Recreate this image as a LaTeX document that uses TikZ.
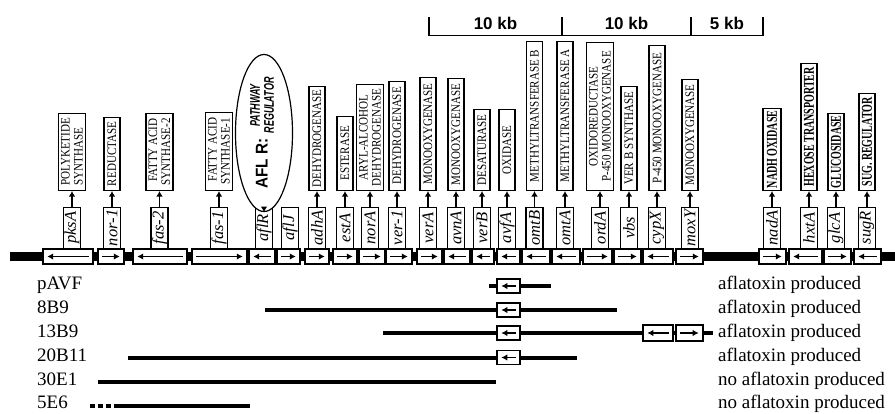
\documentclass[tikz,border=0pt]{standalone}
\usepackage{fontspec}
\setmainfont{Liberation Serif}
\setsansfont{Liberation Sans}
\newfontfamily\narrowserif{Liberation Serif}[FakeStretch=0.85]
\usetikzlibrary{arrows.meta,shapes.geometric}

\tikzset{
  gene/.style={draw, fill=white, line width=1.6pt, minimum height=15pt, inner sep=0pt},
  cgene/.style={gene, line width=1.4pt, minimum height=14pt},
  garrow/.style={line width=1.8pt, -{Latex[length=6pt,width=6.5pt]}},
  tag/.style={draw, fill=white, line width=1.2pt, rotate=90, anchor=west,
    minimum width=41pt, minimum height=17pt, inner sep=1pt,
    font=\fontsize{16.5}{16.5}\selectfont\itshape},
  func/.style={draw, fill=white, line width=1.2pt, rotate=90, anchor=west,
    minimum height=16pt, inner xsep=1.5pt, inner ysep=1.5pt,
    font=\narrowserif\fontsize{13}{13}\selectfont},
  func2/.style={func, minimum height=27pt},
  funcb/.style={func, font=\fontsize{10}{11}\selectfont\bfseries},
  farrow/.style={line width=1.3pt, -{Latex[length=5.5pt,width=6.5pt]}},
  clone/.style={anchor=base west, inner sep=0pt, font=\fontsize{19}{20}\selectfont},
  cline/.style={line width=4pt},
  kb/.style={anchor=base, inner sep=0pt, font=\sffamily\bfseries\fontsize{17}{17}\selectfont}
}

\begin{document}
\begin{tikzpicture}[x=1pt,y=-1pt]
 \useasboundingbox (0,0) rectangle (895,413);

 % scale
 \draw[line width=1.5pt] (429,17) -- (429,35.5) -- (763,35.5) -- (763,17);
 \draw[line width=1.5pt] (562,17) -- (562,35.5) (691,17) -- (691,35.5);
 \node[kb] (K1) at (495.5,29) {10 kb};
 \node[kb] (K2) at (626.5,29) {10 kb};
 \node[kb] (K3) at (727,29) {5 kb};

 % chromosome
 \coordinate (chrL) at (10,256.5);
 \coordinate (chrR) at (895,256.5);
 \draw[line width=9pt] (chrL) -- (chrR);

 \node[gene, minimum width=50pt] (G1) at (68,256.5) {};
 \node[gene, minimum width=26pt] (G2) at (111,256.5) {};
 \node[gene, minimum width=54pt] (G3) at (160,256.5) {};
 \node[gene, minimum width=55pt] (G4) at (219.5,256.5) {};
 \node[gene, minimum width=26pt] (G5) at (262,256.5) {};
 \node[gene, minimum width=23pt] (G6) at (288.5,256.5) {};
 \node[gene, minimum width=24pt] (G7) at (317,256.5) {};
 \node[gene, minimum width=24pt] (G8) at (345,256.5) {};
 \node[gene, minimum width=26pt] (G9) at (372,256.5) {};
 \node[gene, minimum width=26pt] (G10) at (399,256.5) {};
 \node[gene, minimum width=25pt] (G11) at (429.5,256.5) {};
 \node[gene, minimum width=26pt] (G12) at (457,256.5) {};
 \node[gene, minimum width=22pt] (G13) at (483,256.5) {};
 \node[gene, minimum width=23pt] (G14) at (508.5,256.5) {};
 \node[gene, minimum width=28pt] (G15) at (536,256.5) {};
 \node[gene, minimum width=28pt] (G16) at (566,256.5) {};
 \node[gene, minimum width=29pt] (G17) at (597.5,256.5) {};
 \node[gene, minimum width=27pt] (G18) at (627.5,256.5) {};
 \node[gene, minimum width=30pt] (G19) at (658,256.5) {};
 \node[gene, minimum width=27pt] (G20) at (689.5,256.5) {};
 \node[gene, minimum width=27pt] (G21) at (772.5,256.5) {};
 \node[gene, minimum width=33pt] (G22) at (805.5,256.5) {};
 \node[gene, minimum width=27pt] (G23) at (837.5,256.5) {};
 \node[gene, minimum width=27pt] (G24) at (867.5,256.5) {};

 % reading direction
 \draw[garrow] ([xshift=-5pt]G1.east) -- ([xshift=5pt]G1.west);
 \draw[garrow] ([xshift=5pt]G2.west) -- ([xshift=-5pt]G2.east);
 \draw[garrow] ([xshift=-5pt]G3.east) -- ([xshift=5pt]G3.west);
 \draw[garrow] ([xshift=5pt]G4.west) -- ([xshift=-5pt]G4.east);
 \draw[garrow] ([xshift=-5pt]G5.east) -- ([xshift=5pt]G5.west);
 \draw[garrow] ([xshift=5pt]G6.west) -- ([xshift=-5pt]G6.east);
 \draw[garrow] ([xshift=5pt]G7.west) -- ([xshift=-5pt]G7.east);
 \draw[garrow] ([xshift=5pt]G8.west) -- ([xshift=-5pt]G8.east);
 \draw[garrow] ([xshift=5pt]G9.west) -- ([xshift=-5pt]G9.east);
 \draw[garrow] ([xshift=5pt]G10.west) -- ([xshift=-5pt]G10.east);
 \draw[garrow] ([xshift=5pt]G11.west) -- ([xshift=-5pt]G11.east);
 \draw[garrow] ([xshift=-5pt]G12.east) -- ([xshift=5pt]G12.west);
 \draw[garrow] ([xshift=-5pt]G13.east) -- ([xshift=5pt]G13.west);
 \draw[garrow] ([xshift=-5pt]G14.east) -- ([xshift=5pt]G14.west);
 \draw[garrow] ([xshift=-5pt]G15.east) -- ([xshift=5pt]G15.west);
 \draw[garrow] ([xshift=-5pt]G16.east) -- ([xshift=5pt]G16.west);
 \draw[garrow] ([xshift=5pt]G17.west) -- ([xshift=-5pt]G17.east);
 \draw[garrow] ([xshift=5pt]G18.west) -- ([xshift=-5pt]G18.east);
 \draw[garrow] ([xshift=-5pt]G19.east) -- ([xshift=5pt]G19.west);
 \draw[garrow] ([xshift=5pt]G20.west) -- ([xshift=-5pt]G20.east);
 \draw[garrow] ([xshift=5pt]G21.west) -- ([xshift=-5pt]G21.east);
 \draw[garrow] ([xshift=-5pt]G22.east) -- ([xshift=5pt]G22.west);
 \draw[garrow] ([xshift=5pt]G23.west) -- ([xshift=-5pt]G23.east);
 \draw[garrow] ([xshift=-5pt]G24.east) -- ([xshift=5pt]G24.west);

 % gene names
 \node[tag] (T1) at (72,249) {pksA};
 \node[tag] (T2) at (112,249) {nor-1};
 \node[tag] (T3) at (159.5,249) {fas-2};
 \node[tag] (T4) at (219,249) {fas-1};
 \node[tag] (T5) at (264,249) {aflR};
 \node[tag] (T6) at (290,249) {aflJ};
 \node[tag] (T7) at (317,249) {adhA};
 \node[tag] (T8) at (345,249) {estA};
 \node[tag] (T9) at (370,249) {norA};
 \node[tag] (T10) at (397,249) {ver-1};
 \node[tag] (T11) at (428,249) {verA};
 \node[tag] (T12) at (456,249) {avnA};
 \node[tag] (T13) at (482,249) {verB};
 \node[tag] (T14) at (507,249) {avfA};
 \node[tag] (T15) at (534.5,249) {omtB};
 \node[tag] (T16) at (565,249) {omtA};
 \node[tag] (T17) at (600,249) {ordA};
 \node[tag] (T18) at (629,249) {vbs};
 \node[tag] (T19) at (657,249) {cypX};
 \node[tag] (T20) at (690,249) {moxY};
 \node[tag] (T21) at (772,249) {nadA};
 \node[tag] (T22) at (809,249) {hxtA};
 \node[tag] (T23) at (836,249) {glcA};
 \node[tag] (T24) at (867,249) {sugR};

 % functions
 \node[func2, minimum width=77pt, align=left] (F1) at (72,191) {POLYKETIDE\\SYNTHASE};
 \node[func, minimum width=73pt] (F2) at (112,191) {REDUCTASE};
 \node[func2, minimum width=77pt, align=right] (F3) at (159.5,191) {FATTY ACID\\SYNTHASE-2};
 \node[func2, minimum width=78pt, align=right] (F4) at (219,191) {FATTY ACID\\SYNTHASE-1};
 \node[draw, ellipse, fill=white, line width=1.2pt, minimum width=57pt, minimum height=119pt, inner sep=0pt] (F5) at (264,133)
  {\rotatebox{90}{\sffamily\bfseries\scalebox{0.9}[1]{\fontsize{17}{17}\selectfont AFL R:}\hspace{5pt}%
   \scalebox{0.64}[1]{\fontsize{14}{14}\selectfont\itshape\begin{tabular}{@{}c@{}}PATHWAY\\REGULATOR\end{tabular}}}};
 \node[func, minimum width=104pt] (F7) at (317,191) {DEHYDROGENASE};
 \node[func, minimum width=74pt] (F8) at (345,191) {ESTERASE};
 \node[func2, minimum width=106pt, align=center] (F9) at (370,191) {ARYL-ALCOHOL\\DEHYDROGENASE};
 \node[func, minimum width=109pt] (F10) at (397,191) {DEHYDROGENASE};
 \node[func, minimum width=113pt] (F11) at (428,191) {MONOOXYGENASE};
 \node[func, minimum width=112pt] (F12) at (456,191) {MONOOXYGENASE};
 \node[func, minimum width=81pt] (F13) at (482,191) {DESATURASE};
 \node[func, minimum width=81pt] (F14) at (507,191) {OXIDASE};
 \node[func, minimum width=149pt] (F15) at (534.5,191) {METHYLTRANSFERASE B};
 \node[func, minimum width=149pt] (F16) at (565,191) {METHYLTRANSFERASE A};
 \node[func2, minimum width=148pt, align=center] (F17) at (600,191) {OXIDOREDUCTASE\\P-450 MONOOXYGENASE};
 \node[func, minimum width=104pt] (F18) at (629,191) {VER B SYNTHASE};
 \node[func, minimum width=145pt] (F19) at (657,191) {P-450 MONOOXYGENASE};
 \node[func, minimum width=111pt] (F20) at (690,191) {MONOOXYGENASE};
 \node[funcb, minimum width=82pt, minimum height=18pt] (F21) at (772,191) {\scalebox{1}[1.5]{NADH OXIDASE}};
 \node[funcb, minimum width=127pt] (F22) at (809,191) {\scalebox{1}[1.5]{HEXOSE TRANSPORTER}};
 \node[funcb, minimum width=77pt] (F23) at (836,191) {\scalebox{1}[1.5]{GLUCOSIDASE}};
 \node[funcb, minimum width=97pt] (F24) at (867,191) {\scalebox{1}[1.5]{SUG. REGULATOR}};

 \draw[farrow] (T1.east) -- (F1.west);
 \draw[farrow] (T2.east) -- (F2.west);
 \draw[farrow] (T3.east) -- (F3.west);
 \draw[farrow] (T4.east) -- (F4.west);
 \draw[farrow] (T5.east) -- (F5.south);
 \draw[farrow] (T7.east) -- (F7.west);
 \draw[farrow] (T8.east) -- (F8.west);
 \draw[farrow] (T9.east) -- (F9.west);
 \draw[farrow] (T10.east) -- (F10.west);
 \draw[farrow] (T11.east) -- (F11.west);
 \draw[farrow] (T12.east) -- (F12.west);
 \draw[farrow] (T13.east) -- (F13.west);
 \draw[farrow] (T14.east) -- (F14.west);
 \draw[farrow] (T15.east) -- (F15.west);
 \draw[farrow] (T16.east) -- (F16.west);
 \draw[farrow] (T17.east) -- (F17.west);
 \draw[farrow] (T18.east) -- (F18.west);
 \draw[farrow] (T19.east) -- (F19.west);
 \draw[farrow] (T20.east) -- (F20.west);
 \draw[farrow] (T21.east) -- (F21.west);
 \draw[farrow] (T22.east) -- (F22.west);
 \draw[farrow] (T23.east) -- (F23.west);
 \draw[farrow] (T24.east) -- (F24.west);

 % clones
 \node[clone] (pAVF) at (37,289) {pAVF};
 \node[clone] (8B9) at (37,313.5) {8B9};
 \node[clone] (13B9) at (37,337.5) {13B9};
 \node[clone] (20B11) at (37,361.5) {20B11};
 \node[clone] (30E1) at (37,385.5) {30E1};
 \node[clone] (5E6) at (37,408.5) {5E6};

 \node[clone] (R1) at (718,289) {aflatoxin produced};
 \node[clone] (R2) at (718,313.5) {aflatoxin produced};
 \node[clone] (R3) at (718,337.5) {aflatoxin produced};
 \node[clone] (R4) at (718,361.5) {aflatoxin produced};
 \node[clone] (R5) at (718,385.5) {no aflatoxin produced};
 \node[clone] (R6) at (718,408.5) {no aflatoxin produced};

 \coordinate (a1) at (489,286);  \coordinate (b1) at (551,286);
 \coordinate (a2) at (265,310);  \coordinate (b2) at (617,310);
 \coordinate (a3) at (383,333);  \coordinate (b3) at (713,333);
 \coordinate (a4) at (128,357.5);  \coordinate (b4) at (577,357.5);
 \coordinate (a5) at (98,382);   \coordinate (b5) at (496,382);
 \coordinate (d6) at (90,406);   \coordinate (a6) at (115,406); \coordinate (b6) at (250,406);

 \draw[cline] (a1) -- (b1);
 \draw[cline] (a2) -- (b2);
 \draw[cline] (a3) -- (b3);
 \draw[cline] (a4) -- (b4);
 \draw[cline] (a5) -- (b5);
 \draw[cline, dash pattern=on 5pt off 3pt] (d6) -- (a6);
 \draw[cline] (a6) -- (b6);

 \node[cgene, minimum width=23pt] (C1) at (508.5,286) {};
 \node[cgene, minimum width=23pt] (C2) at (508.5,310) {};
 \node[cgene, minimum width=23pt] (C3) at (508.5,333) {};
 \node[cgene, minimum width=30pt, minimum height=16pt] (C4) at (658,333) {};
 \node[cgene, minimum width=27pt, minimum height=16pt] (C5) at (689.5,333) {};
 \node[cgene, minimum width=23pt] (C6) at (508.5,357.5) {};

 \draw[garrow] ([xshift=-5pt]C1.east) -- ([xshift=5pt]C1.west);
 \draw[garrow] ([xshift=-5pt]C2.east) -- ([xshift=5pt]C2.west);
 \draw[garrow] ([xshift=-5pt]C3.east) -- ([xshift=5pt]C3.west);
 \draw[garrow] ([xshift=-5pt]C4.east) -- ([xshift=5pt]C4.west);
 \draw[garrow] ([xshift=5pt]C5.west) -- ([xshift=-5pt]C5.east);
 \draw[garrow] ([xshift=-5pt]C6.east) -- ([xshift=5pt]C6.west);
\end{tikzpicture}
\end{document}
